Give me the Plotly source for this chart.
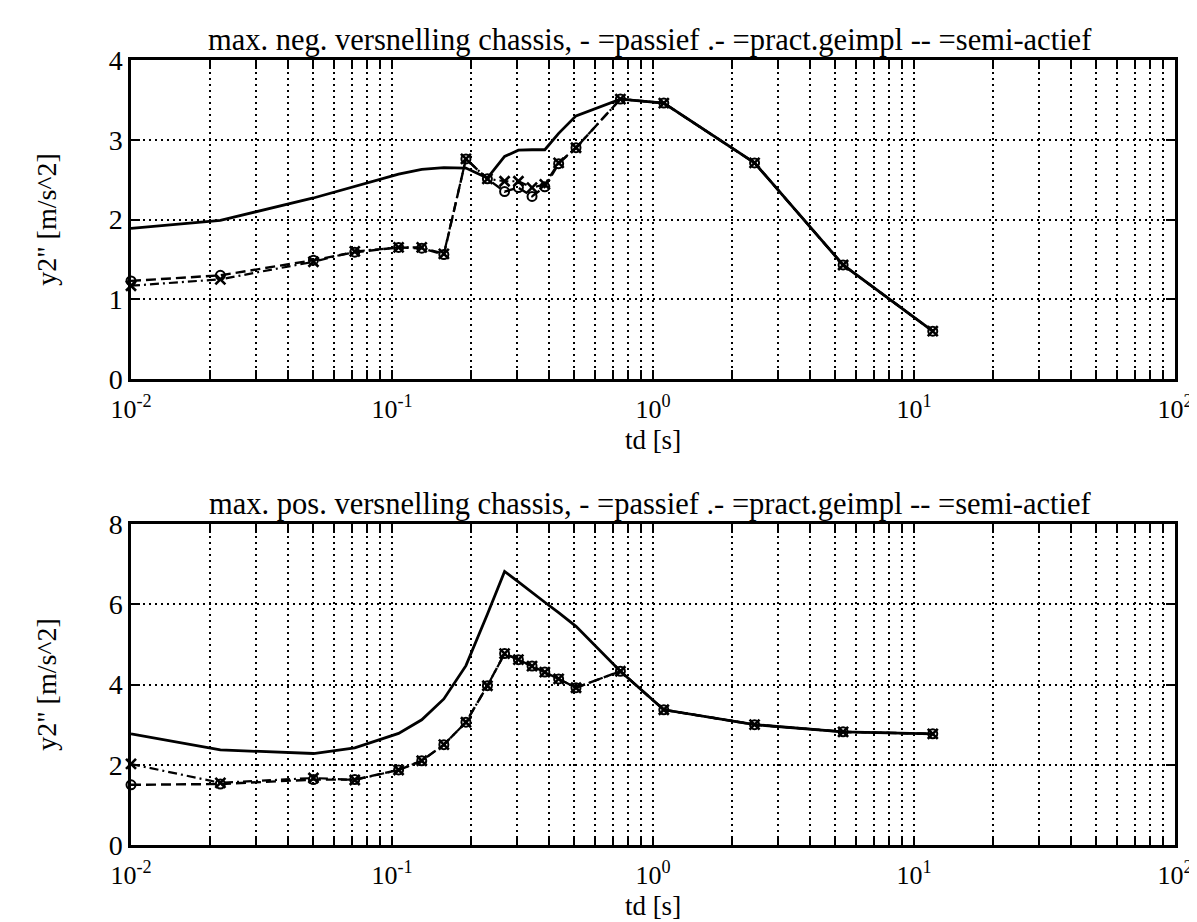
import plotly.graph_objects as go

# ---- data ----
td = [0.01, 0.022, 0.05, 0.072, 0.106, 0.13, 0.158, 0.192, 0.232, 0.27,
      0.305, 0.344, 0.385, 0.435, 0.507, 0.75, 1.1, 2.45, 5.35, 11.8]

neg_passief = [1.89, 1.99, 2.27, 2.42, 2.57, 2.63, 2.65, 2.645, 2.52, 2.79,
               2.87, 2.875, 2.875, 3.08, 3.30, 3.51, 3.46, 2.71, 1.43, 0.60]
neg_semi = [1.23, 1.30, 1.49, 1.59, 1.65, 1.64, 1.56, 2.76, 2.51, 2.35,
            2.40, 2.29, 2.41, 2.70, 2.90, 3.51, 3.46, 2.71, 1.43, 0.60]
neg_pract = [1.17, 1.25, 1.47, 1.60, 1.65, 1.65, 1.57, 2.76, 2.51, 2.48,
             2.48, 2.40, 2.44, 2.71, 2.90, 3.51, 3.46, 2.71, 1.43, 0.60]

pos_passief = [2.77, 2.37, 2.28, 2.42, 2.78, 3.12, 3.64, 4.47, 5.75, 6.82,
               6.56, 6.29, 6.05, 5.79, 5.45, 4.33, 3.37, 3.00, 2.82, 2.77]
pos_semi = [1.50, 1.52, 1.63, 1.63, 1.87, 2.10, 2.50, 3.06, 3.97, 4.77,
            4.62, 4.46, 4.31, 4.14, 3.92, 4.33, 3.37, 3.00, 2.82, 2.77]
pos_pract = [2.02, 1.55, 1.67, 1.62, 1.87, 2.10, 2.50, 3.06, 3.97, 4.77,
             4.62, 4.46, 4.31, 4.14, 3.92, 4.33, 3.37, 3.00, 2.82, 2.77]

x_major = [0.01, 0.1, 1, 10, 100]
x_major_text = ["10<sup>-2</sup>", "10<sup>-1</sup>", "10<sup>0</sup>",
                "10<sup>1</sup>", "10<sup>2</sup>"]
x_minor = [m * 10 ** e for e in (-2, -1, 0, 1) for m in range(2, 10)]
y_top_ticks = [0, 1, 2, 3, 4]
y_bot_ticks = [0, 2, 4, 6, 8]

title_top = "max. neg. versnelling chassis, - =passief .- =pract.geimpl -- =semi-actief"
title_bot = "max. pos. versnelling chassis, - =passief .- =pract.geimpl -- =semi-actief"
x_title = "td [s]"
y_title = 'y2" [m/s^2]'

FONT = "Liberation Serif"
GRID_DASH = "2px,4px"

fig = go.Figure()


def add_panel(row_axes, passief, semi, pract):
    xa, ya = row_axes
    fig.add_trace(go.Scatter(x=td, y=passief, mode="lines", xaxis=xa, yaxis=ya,
                             line=dict(color="black", width=2.8), cliponaxis=False,
                             showlegend=False))
    fig.add_trace(go.Scatter(x=td, y=semi, mode="lines+markers", xaxis=xa, yaxis=ya,
                             line=dict(color="black", width=2.4, dash="10px,5px"),
                             marker=dict(symbol="circle-open", size=9, color="black",
                                         line=dict(width=2, color="black")),
                             cliponaxis=False, showlegend=False))
    fig.add_trace(go.Scatter(x=td, y=pract, mode="lines+markers", xaxis=xa, yaxis=ya,
                             line=dict(color="black", width=2.2, dash="9px,4px,2px,4px"),
                             marker=dict(symbol="x-thin-open", size=10, color="black",
                                         line=dict(width=2.6, color="black")),
                             cliponaxis=False, showlegend=False))


add_panel(("x", "y"), neg_passief, neg_semi, neg_pract)
add_panel(("x2", "y2"), pos_passief, pos_semi, pos_pract)

xaxis_common = dict(
    type="log", range=[-2, 2],
    tickmode="array", tickvals=x_major, ticktext=x_major_text,
    ticks="inside", ticklen=9, tickwidth=2, tickcolor="black",
    showline=True, linecolor="black", linewidth=2.5, mirror="ticks",
    showgrid=True, gridcolor="black", griddash=GRID_DASH, gridwidth=2,
    zeroline=False, ticklabelstandoff=5,
    tickfont=dict(family=FONT, size=26, color="black"),
    title=dict(text=x_title, font=dict(family=FONT, size=27, color="black"), standoff=8),
    minor=dict(tickmode="array", tickvals=x_minor, ticks="inside", ticklen=9,
               tickwidth=2, tickcolor="black", showgrid=True, gridcolor="black",
               griddash=GRID_DASH, gridwidth=2),
)
yaxis_common = dict(
    ticks="inside", ticklen=9, tickwidth=2, tickcolor="black",
    showline=True, linecolor="black", linewidth=2.5, mirror="ticks",
    showgrid=True, gridcolor="black", griddash=GRID_DASH, gridwidth=2,
    zeroline=False, tickmode="array",
    tickfont=dict(family=FONT, size=28, color="black"),
    title=dict(text=y_title, font=dict(family=FONT, size=28, color="black"), standoff=44),
)

fig.update_layout(
    width=1197, height=922,
    margin=dict(l=123, r=22, t=52, b=85),
    paper_bgcolor="white", plot_bgcolor="white",
    xaxis=dict(xaxis_common, domain=[0, 1], anchor="y"),
    yaxis=dict(yaxis_common, domain=[0.5936, 1], range=[0, 4], tickvals=y_top_ticks, anchor="x"),
    xaxis2=dict(xaxis_common, domain=[0, 1], anchor="y2"),
    yaxis2=dict(yaxis_common, domain=[0, 0.4089], range=[0, 8], tickvals=y_bot_ticks, anchor="x2"),
    annotations=[
        dict(text=title_top, xref="paper", yref="paper", x=0.497, y=1.0, yshift=1,
             xanchor="center", yanchor="bottom", showarrow=False,
             font=dict(family=FONT, size=30.5, color="black")),
        dict(text=title_bot, xref="paper", yref="paper", x=0.497, y=0.4089, yshift=1,
             xanchor="center", yanchor="bottom", showarrow=False,
             font=dict(family=FONT, size=30.5, color="black")),
    ],
)

fig.write_html("out.html")
